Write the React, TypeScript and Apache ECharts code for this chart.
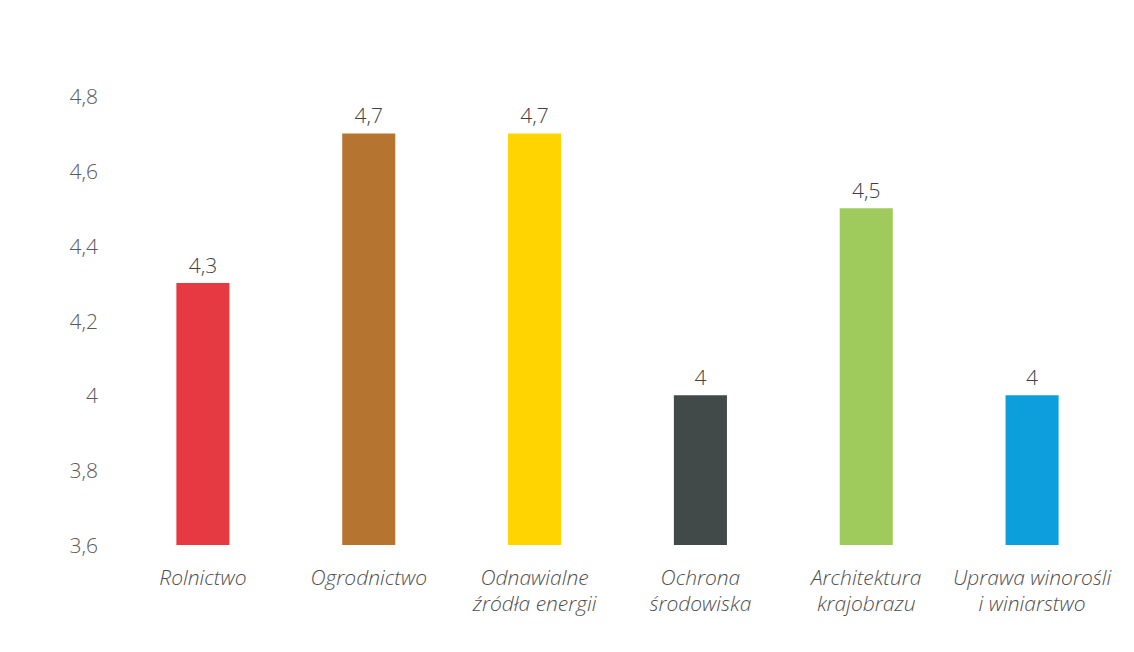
import React, { useEffect, useRef } from "react";
import * as echarts from "echarts";

const categories = [
  "Rolnictwo",
  "Ogrodnictwo",
  "Odnawialne\nźródła energii",
  "Ochrona\nśrodowiska",
  "Architektura\nkrajobrazu",
  "Uprawa winorośli\ni winiarstwo",
];
const values = [4.3, 4.7, 4.7, 4.0, 4.5, 4.0];
const colors = ["#E63A42", "#B5742F", "#FFD400", "#414A49", "#9ECB5C", "#0D9FDB"];

const fmt = (v: number) => String(v).replace(".", ",");

export default function App() {
  const ref = useRef<HTMLDivElement>(null);
  useEffect(() => {
    if (!ref.current) return;
    const chart = echarts.init(ref.current, null, { renderer: "svg" });
    chart.setOption({
      animation: false,
      backgroundColor: "#ffffff",
      grid: { left: 120, right: 19, top: 96, bottom: 107, containLabel: false },
      xAxis: {
        type: "category",
        data: categories,
        axisLine: { show: false },
        axisTick: { show: false },
        axisLabel: {
          interval: 0,
          margin: 19,
          fontFamily: "Open Sans",
          fontStyle: "italic",
          fontWeight: 300,
          fontSize: 21,
          lineHeight: 26,
          color: "#4f4f4f",
        },
      },
      yAxis: {
        type: "value",
        min: 3.6,
        max: 4.8,
        interval: 0.2,
        axisLine: { show: false },
        axisTick: { show: false },
        splitLine: { show: false },
        axisLabel: {
          margin: 22,
          fontFamily: "Open Sans",
          fontWeight: 300,
          fontSize: 21,
          color: "#595959",
          formatter: (v: number) => fmt(Math.round(v * 10) / 10),
        },
      },
      series: [
        {
          type: "bar",
          barWidth: "32%",
          data: values.map((v, i) => ({ value: v, itemStyle: { color: colors[i] } })),
          label: {
            show: true,
            position: "top",
            distance: 8,
            fontFamily: "Open Sans",
            fontWeight: 300,
            fontSize: 21,
            color: "#404040",
            formatter: (p: any) => fmt(p.value),
          },
        },
      ],
    });
    return () => chart.dispose();
  }, []);
  return (
    <div
      ref={ref}
      style={{ position: "fixed", left: 0, top: 0, width: 1134, height: 652 }}
    />
  );
}
